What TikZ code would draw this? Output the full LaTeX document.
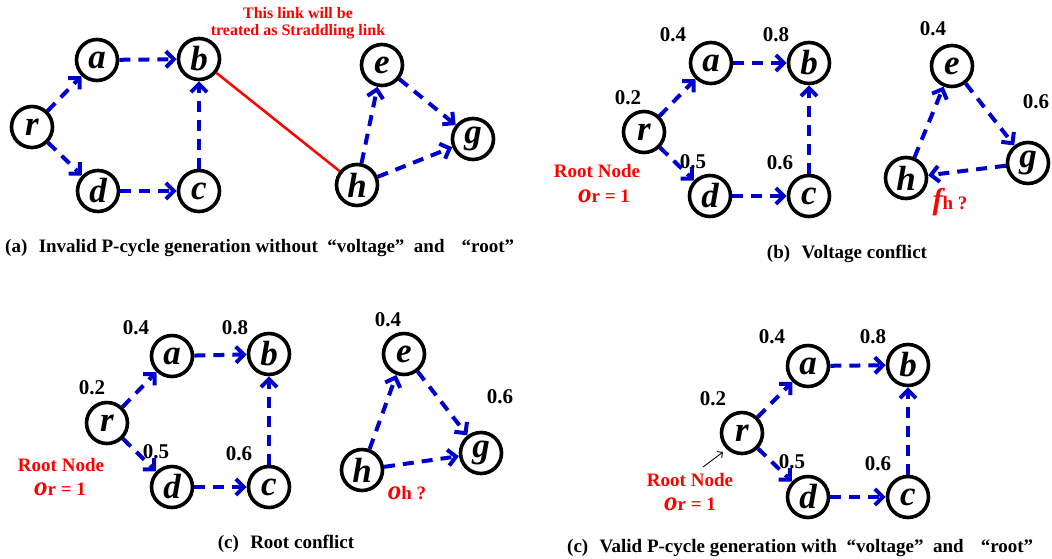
\documentclass[tikz,border=0pt]{standalone}
\usepackage{fontspec}
\setmainfont{Liberation Serif}
\usetikzlibrary{arrows.meta}
\definecolor{eblue}{RGB}{0,0,204}
\definecolor{ered}{RGB}{255,0,0}
\tikzset{
  vtx/.style={circle,draw=black,line width=3.6pt,minimum size=41pt,inner sep=0pt,
    font=\fontsize{35}{35}\selectfont\bfseries\itshape},
  lnk/.style={draw=eblue,line width=4pt,dash pattern=on 11pt off 8pt,
    -{Straight Barb[length=8pt,width=16pt]}},
  redline/.style={draw=ered,line width=2.5pt},
  num/.style={font=\fontsize{21}{21}\selectfont\bfseries,inner sep=0pt},
  redtxt/.style={text=ered,font=\fontsize{16}{16}\selectfont\bfseries,inner sep=0pt},
  roottxt/.style={text=ered,font=\fontsize{19}{19}\selectfont\bfseries,inner sep=0pt},
  captxt/.style={font=\fontsize{19}{19}\selectfont\bfseries,inner sep=0pt},
  thinarrow/.style={draw=black,line width=0.9pt,-{Straight Barb[length=4pt,width=8pt]}}
}
\newcommand\ovar[1]{{\fontsize{27}{27}\selectfont\itshape #1}}
\begin{document}
\begin{tikzpicture}[x=1pt,y=-1pt]
\useasboundingbox (0,0) rectangle (1052,558);

% ---------- panel (a) ----------
\node[vtx] (ra) at (32,127) {r};
\node[vtx] (aa) at (97,60) {a};
\node[vtx] (ba) at (199,59) {b};
\node[vtx] (da) at (98,191) {d};
\node[vtx] (ca) at (199,191) {c};
\node[vtx] (ea) at (382,65) {e};
\node[vtx] (ga) at (473,139) {g};
\node[vtx] (ha) at (357,185) {h};
\draw[lnk] (ra) -- (aa);
\draw[lnk] (aa) -- (ba);
\draw[lnk] (ra) -- (da);
\draw[lnk] (da) -- (ca);
\draw[lnk] (ca) -- (ba);
\draw[lnk] (ha) -- (ea);
\draw[lnk] (ea) -- (ga);
\draw[lnk] (ha) -- (ga);
\draw[redline] (ba) -- (ha);
\node[redtxt] (rt1) at (298,13) {This link will be};
\node[redtxt] (rt2) at (298,32) {treated as Straddling link};
\node[captxt,anchor=base west] (capa) at (5,252) {(a)\hspace{0.6em}Invalid P-cycle generation without\hspace{0.5em}“voltage”\hspace{0.5em}and\hspace{0.9em}“root”};

% ---------- panel (b) ----------
\node[vtx] (rb) at (644,132) {r};
\node[vtx] (ab) at (711,63) {a};
\node[vtx] (bb) at (809,63) {b};
\node[vtx] (db) at (710,196) {d};
\node[vtx] (cb) at (809,196) {c};
\node[vtx] (eb) at (952,66) {e};
\node[vtx] (gb) at (1028,163) {g};
\node[vtx] (hb) at (906,178) {h};
\draw[lnk] (rb) -- (ab);
\draw[lnk] (ab) -- (bb);
\draw[lnk] (rb) -- (db);
\draw[lnk] (db) -- (cb);
\draw[lnk] (cb) -- (bb);
\draw[lnk] (hb) -- (eb);
\draw[lnk] (eb) -- (gb);
\draw[lnk] (gb) -- (hb);
\node[num] (nb1) at (673,35) {0.4};
\node[num] (nb2) at (776,35) {0.8};
\node[num] (nb3) at (628,98) {0.2};
\node[num] (nb4) at (693,162) {0.5};
\node[num] (nb5) at (780,163) {0.6};
\node[num] (nb6) at (933,29) {0.4};
\node[num] (nb7) at (1036,102) {0.6};
\node[roottxt] (rnb) at (597,171) {Root Node};
\node[roottxt] (orb) at (604,196) {\ovar{o}r = 1};
\node[roottxt] (fhb) at (950,202) {{\fontsize{30}{30}\selectfont\itshape f}h ?};
\node[captxt,anchor=base] (capb) at (847,258) {(b)\hspace{0.6em}Voltage conflict};

% ---------- panel (c) ----------
\node[vtx] (rc) at (107,423) {r};
\node[vtx] (ac) at (172,356) {a};
\node[vtx] (bc) at (269,354) {b};
\node[vtx] (dc) at (172,487) {d};
\node[vtx] (cc) at (269,487) {c};
\node[vtx] (ec) at (404,354) {e};
\node[vtx] (gc) at (481,453) {g};
\node[vtx] (hc) at (362,470) {h};
\draw[lnk] (rc) -- (ac);
\draw[lnk] (ac) -- (bc);
\draw[lnk] (rc) -- (dc);
\draw[lnk] (dc) -- (cc);
\draw[lnk] (cc) -- (bc);
\draw[lnk] (hc) -- (ec);
\draw[lnk] (ec) -- (gc);
\draw[lnk] (hc) -- (gc);
\node[num] (nc1) at (136,328) {0.4};
\node[num] (nc2) at (235,328) {0.8};
\node[num] (nc3) at (92,388) {0.2};
\node[num] (nc4) at (156,452) {0.5};
\node[num] (nc5) at (239,454) {0.6};
\node[num] (nc6) at (388,320) {0.4};
\node[num] (nc7) at (500,397) {0.6};
\node[roottxt] (rnc) at (61,465) {Root Node};
\node[roottxt] (orc) at (60,489) {\ovar{o}r = 1};
\node[roottxt] (ohc) at (407,493) {\ovar{o}h ?};
\node[captxt,anchor=base] (capc) at (286,548) {(c)\hspace{0.6em}Root conflict};

% ---------- panel (d) ----------
\node[vtx] (rd) at (742,433) {r};
\node[vtx] (ad) at (808,366) {a};
\node[vtx] (bd) at (908,365) {b};
\node[vtx] (dd) at (808,497) {d};
\node[vtx] (cd) at (908,497) {c};
\draw[lnk] (rd) -- (ad);
\draw[lnk] (ad) -- (bd);
\draw[lnk] (rd) -- (dd);
\draw[lnk] (dd) -- (cd);
\draw[lnk] (cd) -- (bd);
\node[num] (nd1) at (772,337) {0.4};
\node[num] (nd2) at (873,337) {0.8};
\node[num] (nd3) at (713,399) {0.2};
\node[num] (nd4) at (792,462) {0.5};
\node[num] (nd5) at (878,464) {0.6};
\node[roottxt] (rnd) at (690,480) {Root Node};
\node[roottxt] (ord) at (690,504) {\ovar{o}r = 1};
\coordinate (rarrs) at (703,467);
\coordinate (rarre) at (723,452);
\draw[thinarrow] (rarrs) -- (rarre);
\node[captxt,anchor=base west] (capd) at (567,552) {(c)\hspace{0.6em}Valid P-cycle generation with\hspace{0.5em}“voltage”\hspace{0.5em}and\hspace{0.9em}“root”};
\end{tikzpicture}
\end{document}
